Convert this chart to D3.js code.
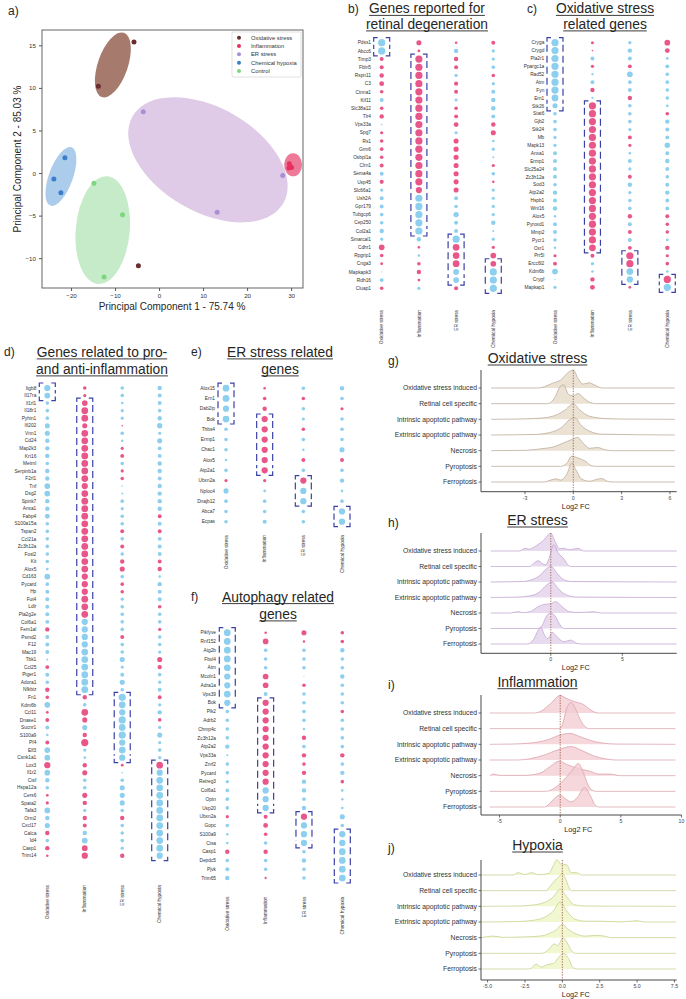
<!DOCTYPE html>
<html><head><meta charset="utf-8">
<script src="https://cdn.jsdelivr.net/npm/d3@7"></script>
<style>body{margin:0;background:#fff}svg text{font-family:'Liberation Sans',Arial,sans-serif}</style>
</head><body>
<script>
// ---------------- DATA ----------------
const pcaGroups = ["Oxidative stress","Inflammation","ER stress","Chemical hypoxia","Control"];
const pcaOxidative = [[-5.7,15.4],[-13.8,10.2],[-4.7,-10.9]];
const pcaInflammation = [[29.6,1.1],[29.5,0.6],[30.1,0.65],[29.8,0.75]];
const pcaER = [[-3.6,7.2],[13.2,-4.6],[28.1,-0.3]];
const pcaHypoxia = [[-21.4,1.8],[-23.9,-0.7],[-22.3,-2.3]];
const pcaControl = [[-14.8,-1.2],[-8.3,-4.9],[-12.5,-12.2]];
const pcaEllipseCenters = [[11.1,1.56],[-10.5,12.7],[30.45,0.97],[-22.3,-0.4],[-12.8,-6.7]];
const pcaEllipseGroups = ["ER stress","Oxidative stress","Inflammation","Chemical hypoxia","Control"];
const pcaXTicks = [-20,-10,0,10,20,30];
const pcaYTicks = [-10,-5,0,5,10,15];

const dotConditions = ["Oxidative stress","Inflammation","ER stress","Chemical hypoxia"];

const genesB = ["Pdss1","Abcc6","Timp3","Fbln5","Rspn11","C3","Ctnna1","Kif11","Slc38a12","Tlr4","Vps33a","Spg7","Rs1","Grm6","Osbpl1a","Clrn1","Sema4a","Usp45","Slc66a1","Ush2A","Gpr179","Tubgcp6","Cep250","Col2a1","Smarcal1","Cdhr1","Rpgrip1","Cnga3","Mapkapk3","Rdh16","Cluap1"];
const valuesB = [[-4,2,0.5,1.2],[-4,0.6,-1.5,-0.8],[1.2,4,1.5,-0.8],[1.3,4,1.2,-1],[1.5,4,-0.8,1],[1.8,4,1.3,-0.8],[1,4,1.2,-1.3],[-1.2,4,-0.8,-1.5],[1,4,1,-1.6],[1.5,4,1.2,-1.2],[-0.2,4,1.8,1.6],[0.8,4,-0.8,2],[1,4,2,-0.5],[1,4,2,-0.8],[1,4,2,-0.3],[1.2,4,2,0.8],[-1.2,4,2,-1],[1.3,4,2,0.5],[-0.8,3,2,-0.8],[-1.2,-4,-1.2,-0.8],[-1.2,-4,-1,-0.8],[-1,-4,-2.2,-0.8],[-1,-4,-1.2,-1.5],[-1.5,-4,-1.2,-0.3],[-0.8,-1.5,-4,-0.8],[2.5,0.5,3.5,0.8],[1,-0.5,3.5,2.5],[0.6,1,3.5,2.5],[-0.1,1.5,-2.5,-4],[-1.2,0.6,-2.5,-4],[1,-0.8,1.3,-4]];
const bracketsB = [[0,0,1],[1,2,23],[2,24,29],[3,27,30]];

const genesC = ["Cryga","Crygd","Pla2r1","Ppargc1a","Rad52","Atm","Fyn","Ern1","Stk26","Stat6","Gjb2","Stk24","Mb","Mapk13","Anxa1","Ermp1","Slc25a24","Zc3h12a","Sod3","Atp2a2","Hspb1","Wnt16","Alox5","Pyroxd1","Mmp2","Pycr1","Oxr1","Prr5l","Ercc6l2","Kdm6b","Crygf","Mapkap1"];
const valuesC = [[-4,0.7,-0.8,2.5],[-4,0.2,-1.5,1.8],[-4,-1.2,-1.2,-0.6],[-4,0.8,1.2,-1.2],[-4,-0.4,-2.5,-1],[-4,-1.2,-1,-1],[-4,1.5,-1.2,-1],[-3.5,-0.4,1.5,-1],[-2,4,-1,-0.6],[-1,4,-1,1],[-1,4,-1,-1.5],[-1,4,-0.8,-1.2],[-0.8,4,1.2,-1.2],[-0.8,4,0.8,-2.2],[-1.2,4,-0.5,-1.2],[-1.2,4,-1.2,-1.5],[-1.2,4,-0.8,-1.2],[-1.2,4,1.2,-1],[-1,4,-1.5,-1.2],[-1.5,4,-0.8,-1.5],[-1.2,4,-1,-1.2],[-1.5,4,-1,-1.2],[-0.5,4,1.5,1.2],[-1.2,4,-1.2,1],[-1.2,4,1.2,1],[-1,4,-1.2,-0.6],[-0.5,3.5,1.2,1.5],[0.8,1.2,4,0.8],[1.2,-0.8,4,1],[-2.5,-0.5,-3.5,-0.5],[-0.1,1.5,-3,4],[-0.8,1.8,0.6,-4]];
const bracketsC = [[0,0,8],[1,8,26],[2,27,30],[3,30,31]];

const genesD = ["Itgb8","Il17ra","Il1rl1","Il18r1","Pyhin1","Ifi202","Vnn1","Cd24","Map2k3","Krt16","Metrnl","Serpinb1a","F2rl1","Tnf","Dsg2","Spink7","Anxa1","Fabp4","S100a15a","Tspan2","Ccl21a","Zc3h12a","Fosl2","Kit","Alox5","Cd163","Pycard","Hp","Fut4","Ldlr","Pla2g2e","Col6a1","Fem1al","Psmd2","F12","Mac19","Tbk1","Ccl25","Ptger1","Adora1","Nfkbiz","Fn1","Kdm6b","Ccl11","Dnase1","Sucnr1","S100a9","Pf4","Elf3","Csnk1a1","Lox3","Il1r2","Ctsf","Hspa12a","Cers6","Spata2","Tafa3","Orm2","Cxcl17","Calca","Id4","Casp1","Trim14"];
const valuesD = [[-3,1,-1,-1.5],[-2.5,0.8,-1,-1.2],[-1,2.5,-0.5,-1.2],[-1,3.5,-0.8,-1],[-1,3.5,-0.8,-1.5],[-2,2,0.2,-2.2],[-2,3.5,-1,-0.8],[-1.5,3.5,-0.5,-2],[-1.5,3.5,0.8,-1.2],[-1.5,3.5,1.2,-1.2],[-1,3.5,-1,-1.5],[-1.5,3.5,0.8,-1.5],[-1.5,3.5,1,-1.2],[-2.5,3,-0.2,-1.5],[-2.5,3.5,-0.3,-1.5],[-1.5,3.5,-1,-1.5],[-1.5,3.5,-0.8,-1.5],[-1.8,3.5,-1,1.2],[-1,3.5,-1,-1.2],[-1,3.5,1.2,1.2],[-1,3.5,-1,-1.2],[-1,3.5,1.2,-1.2],[-1,3.5,-1,-1.2],[-1,3.5,1.5,1.2],[-0.6,3.5,2,1.5],[-2.5,3,-1,-0.5],[-1,3,1,-1.5],[-1.2,3,1,-1.2],[-1.2,3.5,-0.8,-1.2],[-1.2,3.5,-1,1],[-1.2,3.5,-1,-1],[-1.2,-3,-1,-1],[1.5,-3,-1,0.8],[-1.2,-3,1.2,-1],[-1.2,-3,-1,-1],[-1.2,-3.5,-1,-0.8],[-0.3,-3.5,-2,2],[1.2,-3.5,-0.8,1.5],[-1.2,-3.5,-1.2,-1],[-1,-3.5,-2,-0.8],[1.5,-3.5,-1,-1.2],[1,1.5,-4,1.2],[-2.5,-1,-3.5,-0.8],[0.6,3.5,-3,-1.5],[1.2,2,-4,1],[-1.2,-2,-3.5,-0.8],[-0.5,1.5,-4,-2],[1.2,4,-3,-0.8],[-2.5,-0.8,-3.5,-1],[-2.5,-0.5,-3,-0.8],[3,1.5,0.6,3.5],[-2.5,2,-0.2,-3],[-1.5,-1,-1,-3.5],[-1,-1,-2,-3.5],[0.6,2,-2,-3.5],[0.8,1.5,-2,-3.5],[-2.5,-0.8,-1,-3.5],[-1.5,1.5,1.5,-3.5],[-2,1.2,-1,-3.5],[1.5,-1.5,-1,-3.5],[-1,-2.5,-1,-3.5],[1.5,2.5,-0.8,-3.5],[0.5,3,1.5,-3]];
const bracketsD = [[0,0,1],[1,2,40],[2,41,49],[3,50,62]];

const genesE = ["Alox15","Ern1","Dab2ip","Bok","Thbs4","Ermp1","Chac1","Alox5","Atp2a1","Ubxn2a","Nploc4","Dnajb12","Abca7","Ecpas"];
const valuesE = [[-3.5,0.5,-1,-1.5],[-3.5,1,1,-1],[-3,1.5,-1,0.8],[-3.5,3,-0.8,-1],[-1,3,1,-1],[-1,3,-1,-1],[-1,3,-0.5,-2],[-0.5,3,1.2,1.2],[-1,3,-1,-1],[0.8,0.8,3,-1.5],[-2,-0.6,-3,-0.5],[-1,-1,-3,-1],[-1,-1,-1,-3],[-1,-1.3,-1,-3]];
const bracketsE = [[0,0,3],[1,3,8],[2,9,11],[3,12,13]];

const genesF = ["Pikfyve","Rnf152","Atg2b","Fbxl4","Atm","Mcoln1","Adra1a","Vps39","Bok","Plk2","Adrb2","Chmp4c","Zc3h12a","Atp2a2","Vps33a","Znrf2","Pycard","Retreg3","Col6a1","Optn","Usp20","Ubxn2a","Gopc","S100a9","Ctsa","Casp1","Depdc5","Pjvk","Trim65"];
const valuesF = [[-3.5,0.5,2,1],[-3.5,2.5,0.5,1],[-3.5,-1,-1,-1.5],[-3.5,-1,-1,-1],[-3.5,-1,-1,-1],[-3,2.5,-0.1,-1.5],[-3,2.5,1,-1],[-3.5,-1.2,-1,-1],[-3,3,-1,-1],[-1,3,-1,1],[-1,3,-1,-1],[-1,3,-0.5,-1],[-1,3,1.5,-1],[-1.5,3,-1,-1],[-0.3,3,1.5,1.5],[-1,3,1,-1],[-1,3,1.5,-1.5],[-0.8,3,-1.5,1],[-1,-3,-1.5,-0.5],[-1,-3,-1,-0.5],[-1,-3,-1.5,-0.5],[0.8,1.2,3,-2],[-1,1.8,-3,-1],[-0.5,1,-3,-3],[-0.5,-1,-3,-3],[1.5,1.5,-1,-3.5],[-1,-1,-1.5,-3.5],[-1.2,-1,-1,-3.5],[-1.5,0.4,-1,-3.5]];
const bracketsF = [[0,0,8],[1,8,20],[2,21,24],[3,23,28]];

const ridgeCats = ["Oxidative stress induced","Retinal cell specific","Intrinsic apoptotic pathway","Extrinsic apoptotic pathway","Necrosis","Pyroptosis","Ferroptosis"];
const ridgeOxidative = [
 [[-5.1,0],[-2.2,0],[-1.8,0.08],[-1.3,0.3],[-0.8,0.5],[-0.3,1.0],[0,1.15],[0.3,0.6],[0.6,0.25],[1.0,0.33],[1.3,0.2],[1.8,0],[6.3,0]],
 [[-5.1,0],[-1.6,0],[-1.2,0.3],[-0.8,1.1],[-0.6,1.2],[-0.3,0.6],[0,0.5],[0.3,0.65],[0.6,0.4],[1.0,0.1],[1.4,0],[6.3,0]],
 [[-5.1,0],[-3.5,0.02],[-2,0.08],[-1,0.3],[-0.5,0.6],[0,1.0],[0.4,0.6],[1,0.2],[2,0.05],[3,0.02],[6.3,0]],
 [[-5.1,0],[-2.5,0.03],[-1.5,0.15],[-0.7,0.5],[-0.2,1.0],[0.1,1.1],[0.5,0.6],[1,0.25],[1.8,0.05],[6.3,0]],
 [[-5.1,0],[-3,0.02],[-2,0.12],[-1.2,0.25],[-0.6,0.5],[0,0.75],[0.25,0.85],[0.6,0.5],[1.0,0.15],[1.5,0.2],[2.0,0.05],[2.5,0],[6.3,0]],
 [[-5.1,0],[-0.8,0],[-0.4,0.2],[-0.1,0.65],[0.1,0.6],[0.5,0.45],[0.8,0.3],[1.1,0.05],[1.4,0],[6.3,0]],
 [[-5.1,0],[-1.8,0],[-1.4,0.12],[-1.1,0.2],[-0.8,0.12],[-0.4,0.5],[-0.1,1.2],[0.2,0.7],[0.5,0.2],[1.0,0.05],[1.5,0.18],[1.8,0.22],[2.1,0.05],[2.4,0],[6.3,0]]
];
const ridgeER = [
 [[-4.2,0],[-2.2,0],[-1.8,0.17],[-1.5,0.12],[-1,0.35],[-0.5,0.7],[0,1.14],[0.3,0.6],[0.6,0.15],[0.9,0.17],[1.3,0.08],[1.9,0.17],[2.3,0],[8.8,0]],
 [[-4.2,0],[-1.5,0],[-1.2,0.2],[-0.9,0.37],[-0.6,0.2],[-0.35,0.1],[-0.1,0.6],[0.2,1.4],[0.5,0.9],[0.9,0.5],[1.2,0.1],[1.4,0],[8.8,0]],
 [[-4.2,0],[-2,0.03],[-1.5,0.1],[-0.8,0.4],[-0.3,0.85],[0,1.03],[0.4,0.6],[0.9,0.15],[1.5,0.03],[8.8,0]],
 [[-4.2,0],[-2.5,0.02],[-1.5,0.1],[-0.8,0.35],[-0.3,0.8],[0.1,1.0],[0.5,0.6],[1.0,0.2],[1.8,0.03],[8.8,0]],
 [[-4.2,0],[-2.8,0],[-2.3,0.08],[-1.9,0.02],[-1.4,0.1],[-0.9,0.4],[-0.5,0.55],[0,0.6],[0.35,0.73],[0.8,0.4],[1.3,0.08],[2,0.03],[3,0.08],[3.5,0],[8.8,0]],
 [[-4.2,0],[-0.9,0],[-0.6,0.2],[-0.3,0.8],[0,1.0],[0.3,0.8],[0.6,0.3],[0.9,0],[8.8,0]],
 [[-4.2,0],[-1.6,0],[-1.2,0.3],[-0.9,0.85],[-0.7,1.08],[-0.45,0.6],[-0.2,0.35],[0.1,0.75],[0.4,0.5],[0.9,0.15],[1.4,0.25],[1.8,0.05],[2.2,0],[8.8,0]]
];
const ridgeInflammation = [
 [[-5.8,0],[-2.2,0],[-1.5,0.15],[-0.8,0.6],[0,1.11],[0.6,0.9],[1.3,0.7],[1.9,0.55],[2.5,0.2],[3.1,0],[9.5,0]],
 [[-5.8,0],[-0.1,0],[0.2,0.3],[0.5,1.2],[0.9,1.67],[1.3,1.2],[1.7,0.5],[2.1,0.1],[2.4,0],[9.5,0]],
 [[-5.8,0],[-4,0.02],[-2.5,0.08],[-1,0.3],[0,0.6],[0.8,0.7],[1.6,0.5],[2.5,0.25],[3.5,0.08],[4.6,0.02],[9.5,0]],
 [[-5.8,0],[-3.5,0],[-2.5,0.08],[-1.2,0.35],[0,0.7],[0.9,0.86],[1.8,0.6],[2.8,0.25],[3.8,0.06],[4.6,0],[9.5,0]],
 [[-5.8,0],[-5.5,0.1],[-5,0.02],[-3,0.02],[-1.7,0.15],[-0.8,0.6],[-0.1,0.92],[0.6,0.7],[1.5,0.45],[2.4,0.3],[3.2,0.1],[4.1,0.1],[5,0],[9.5,0]],
 [[-5.8,0],[-1.2,0],[-0.6,0.15],[0,0.5],[0.5,0.9],[1.0,1.35],[1.5,1.78],[1.9,1.2],[2.3,0.4],[2.7,0.05],[3,0],[9.5,0]],
 [[-5.8,0],[-1.3,0],[-0.9,0.2],[-0.4,0.6],[0,0.77],[0.4,0.55],[0.9,0.33],[1.4,0.6],[2.0,1.24],[2.5,0.7],[2.9,0.1],[3.2,0],[9.5,0]]
];
const ridgeHypoxia = [
 [[-5.4,0],[-3.3,0],[-2.95,0.15],[-2.5,0.03],[-2.05,0.15],[-1.6,0.02],[-0.9,0.1],[-0.6,0.6],[-0.37,0.97],[-0.1,0.7],[0.3,0.65],[0.6,0.15],[0.95,0.15],[1.3,0],[7.6,0]],
 [[-5.4,0],[-1.1,0],[-0.8,0.3],[-0.5,0.65],[-0.2,0.9],[0,1.14],[0.2,0.8],[0.45,0.2],[0.6,0],[7.6,0]],
 [[-5.4,0],[-3,0.02],[-2,0.08],[-1.2,0.25],[-0.6,0.6],[-0.15,1.1],[0.3,0.6],[0.8,0.1],[1.5,0.02],[7.6,0]],
 [[-5.4,0],[-3,0.03],[-2,0.1],[-1.2,0.3],[-0.6,0.7],[-0.15,1.27],[0.3,0.7],[0.8,0.2],[1.5,0.05],[2.5,0.05],[4,0.01],[5,0.08],[5.5,0],[7.6,0]],
 [[-5.4,0],[-4.6,0.1],[-4,0.02],[-2.5,0.05],[-1.5,0.1],[-0.8,0.3],[-0.4,0.5],[0,0.86],[0.3,0.6],[0.9,0.25],[1.5,0.1],[2.3,0.15],[2.8,0.1],[3.3,0],[7.6,0]],
 [[-5.4,0],[-1.4,0],[-0.9,0.25],[-0.55,0.6],[-0.3,0.5],[0.05,1.0],[0.3,0.7],[0.6,0.2],[0.9,0],[7.6,0]],
 [[-5.4,0],[-2.2,0],[-1.75,0.3],[-1.4,0.12],[-1.0,0.28],[-0.6,0.35],[-0.2,0.8],[0.05,1.0],[0.45,0.6],[0.7,0.1],[1,0],[7.6,0]]
];
const ticksG = [-3,0,3,6], ticksH = [0,5], ticksI = [-5,0,5,10], ticksJ = [-5,-2.5,0,2.5,5,7.5];

// ---------------- DRAWING ----------------
const TXT = "#262626";
const PINK = "#e9578a", BLUE = "#8dcfee", BRACKET = "#3c40a6";
const svg = d3.select("body").append("svg").attr("width",686).attr("height",999);

function label(t,x,y,size){ svg.append("text").attr("x",x).attr("y",y).attr("dy","0.35em").attr("font-size",size||12).attr("fill",TXT).text(t); }
function title(lines,cx,ys,size){
  lines.forEach((l,i)=>{
    const t = svg.append("text").attr("x",cx).attr("y",ys[i]).attr("dy","0.35em").attr("text-anchor","middle").attr("font-size",size).attr("fill",TXT).text(l);
    const w = t.node().getComputedTextLength();
    svg.append("line").attr("x1",cx-w/2).attr("x2",cx+w/2).attr("y1",ys[i]+size*0.5).attr("y2",ys[i]+size*0.5).attr("stroke",TXT).attr("stroke-width",0.9);
  });
}

// ---- Panel a ----
(function(){
  const x = d3.scaleLinear().domain([-26.6,32.7]).range([42,303]);
  const y = d3.scaleLinear().domain([-13.5,16.8]).range([288,30]);
  const pointColor = {"Oxidative stress":"#6b2c30","Inflammation":"#e8305f","ER stress":"#a98fd6","Chemical hypoxia":"#3b7dc9","Control":"#7dd67f"};
  const ellFill = {"Oxidative stress":"#a67b6d","Inflammation":"#ed7a98","ER stress":"#dfcbe7","Chemical hypoxia":"#abcdeb","Control":"#c5ebc9"};
  const ellShape = {"Oxidative stress":[15,34,19],"Inflammation":[9,11.5,0],"ER stress":[87,52,30],"Chemical hypoxia":[12,31,20],"Control":[27,54,5]};
  const g = svg.append("g");
  pcaEllipseGroups.forEach((grp,i)=>{
    const c = pcaEllipseCenters[i], s = ellShape[grp];
    g.append("ellipse").attr("cx",0).attr("cy",0).attr("rx",s[0]).attr("ry",s[1])
      .attr("transform",`translate(${x(c[0])},${y(c[1])}) rotate(${s[2]})`).attr("fill",ellFill[grp]);
  });
  const sets = [pcaOxidative,pcaInflammation,pcaER,pcaHypoxia,pcaControl];
  sets.forEach((pts,i)=>{
    g.selectAll(null).data(pts).join("circle").attr("cx",d=>x(d[0])).attr("cy",d=>y(d[1])).attr("r",2.5).attr("fill",pointColor[pcaGroups[i]]);
  });
  g.append("rect").attr("x",42).attr("y",30).attr("width",261).attr("height",258).attr("fill","none").attr("stroke","#555").attr("stroke-width",0.9);
  const ax = g.append("g").attr("transform","translate(0,288)").call(d3.axisBottom(x).tickValues(pcaXTicks).tickSize(3));
  const ay = g.append("g").attr("transform","translate(42,0)").call(d3.axisLeft(y).tickValues(pcaYTicks).tickSize(3));
  [ax,ay].forEach(a=>{a.select(".domain").remove(); a.attr("font-family",null).attr("font-size",6.2); a.selectAll("text").attr("fill","#333"); a.selectAll("line").attr("stroke","#555");});
  svg.append("text").attr("x",172).attr("y",306).attr("dy","0.35em").attr("text-anchor","middle").attr("font-size",10).attr("fill",TXT).text("Principal Component 1 - 75.74 %");
  svg.append("text").attr("transform","translate(17,159) rotate(-90)").attr("dy","0.35em").attr("text-anchor","middle").attr("font-size",10).attr("fill",TXT).text("Principal Component 2 - 85.03 %");
  // legend
  const lg = svg.append("g");
  lg.append("rect").attr("x",232).attr("y",32).attr("width",69).attr("height",45).attr("fill","#fff").attr("stroke","#ccc").attr("stroke-width",0.6).attr("rx",1);
  const ly = d3.scalePoint().domain(pcaGroups).range([37.7,71]);
  lg.selectAll("circle").data(pcaGroups).join("circle").attr("cx",239).attr("cy",d=>ly(d)).attr("r",2).attr("fill",d=>pointColor[d]);
  lg.selectAll("text").data(pcaGroups).join("text").attr("x",251).attr("y",d=>ly(d)).attr("dy","0.35em").attr("font-size",5.8).attr("fill","#333").text(d=>d);
  label("a)",8,11,12);
})();

// ---- Dot panels ----
const rScale = d3.scaleSqrt().domain([0,4]).range([0,3.6]);
function dotPanel(o){
  const x = d3.scalePoint().domain(dotConditions).range(o.cols);
  const y = d3.scalePoint().domain(d3.range(o.genes.length)).range(o.rows);
  const g = svg.append("g");
  g.selectAll(".rl").data(o.genes).join("text").attr("x",o.labelX).attr("y",(d,i)=>y(i)).attr("dy","0.35em")
    .attr("text-anchor","end").attr("font-size",4.8).attr("fill","#333").text(d=>d);
  const cells = [];
  o.values.forEach((row,i)=>row.forEach((v,j)=>cells.push({i,c:dotConditions[j],v})));
  g.selectAll("circle").data(cells).join("circle").attr("cx",d=>x(d.c)).attr("cy",d=>y(d.i))
    .attr("r",d=>rScale(Math.abs(d.v))).attr("fill",d=>d.v>=0?PINK:BLUE);
  o.brackets.forEach(b=>{
    const cx = x(dotConditions[b[0]]), x0 = cx-8, x1 = cx+8, y0 = y(b[1])-5, y1 = y(b[2])+5;
    const leg = 4;
    const p = d3.path();
    p.moveTo(x0+leg,y0); p.lineTo(x0,y0); p.lineTo(x0,y0+leg);
    p.moveTo(x1-leg,y0); p.lineTo(x1,y0); p.lineTo(x1,y0+leg);
    p.moveTo(x0+leg,y1); p.lineTo(x0,y1); p.lineTo(x0,y1-leg);
    p.moveTo(x1-leg,y1); p.lineTo(x1,y1); p.lineTo(x1,y1-leg);
    g.append("path").attr("d",p.toString()).attr("fill","none").attr("stroke",BRACKET).attr("stroke-width",1.2);
    const inner = (y1-leg-3)-(y0+leg+3);
    if (inner > 3) {
      [x0,x1].forEach(xx=>g.append("line").attr("x1",xx).attr("x2",xx).attr("y1",y0+leg+3).attr("y2",y1-leg-3)
        .attr("stroke",BRACKET).attr("stroke-width",1.2).attr("stroke-dasharray","7,4"));
    }
  });
  g.selectAll(".cl").data(dotConditions).join("text").attr("transform",d=>`translate(${x(d)},${o.colTop}) rotate(-90)`)
    .attr("dy","0.35em").attr("text-anchor","end").attr("font-size",4.8).attr("fill","#333").text(d=>d);
  title(o.title,o.titleX,o.titleY,13.8);
  label(o.tag,o.tagX,o.titleY[0],12);
}
dotPanel({genes:genesB,values:valuesB,brackets:bracketsB,cols:[381.7,493.3],rows:[42.7,288.3],labelX:371,colTop:310,
  title:["Genes reported for","retinal degeneration"],titleX:427,titleY:[8.5,24],tag:"b)",tagX:348});
dotPanel({genes:genesC,values:valuesC,brackets:bracketsC,cols:[555,667.3],rows:[42.7,287.3],labelX:544.3,colTop:310,
  title:["Oxidative stress","related genes"],titleX:605,titleY:[8.5,24],tag:"c)",tagX:527});
dotPanel({genes:genesD,values:valuesD,brackets:bracketsD,cols:[47.3,159.7],rows:[388,855.7],labelX:36.3,colTop:885,
  title:["Genes related to pro-","and anti-inflammation"],titleX:102,titleY:[352,369],tag:"d)",tagX:4});
dotPanel({genes:genesE,values:valuesE,brackets:bracketsE,cols:[226,342],rows:[388.2,521.7],labelX:215,colTop:535,
  title:["ER stress related","genes"],titleX:280,titleY:[352,369],tag:"e)",tagX:191});
dotPanel({genes:genesF,values:valuesF,brackets:bracketsF,cols:[227.3,342.3],rows:[632.7,878],labelX:216,colTop:896.7,
  title:["Autophagy related","genes"],titleX:278,titleY:[596.7,614],tag:"f)",tagX:191});

// ---- Ridge panels ----
function ridgePanel(o,knots,ticks){
  const x = d3.scaleLinear().domain(o.domain).range([481,o.right]);
  const y = d3.scalePoint().domain(ridgeCats).range(o.rows);
  const step = (o.rows[1]-o.rows[0])/6;
  const g = svg.append("g");
  knots.forEach((k,i)=>{
    const base = y(ridgeCats[i]);
    const area = d3.area().x(d=>x(d[0])).y0(base).y1(d=>base-d[1]*step).curve(d3.curveMonotoneX);
    const line = d3.line().x(d=>x(d[0])).y(d=>base-d[1]*step).curve(d3.curveMonotoneX);
    g.append("path").attr("d",area(k)).attr("fill",o.fill).attr("fill-opacity",0.8);
    g.append("path").attr("d",line(k)).attr("fill","none").attr("stroke",o.stroke).attr("stroke-width",0.7);
  });
  g.append("line").attr("x1",x(0)).attr("x2",x(0)).attr("y1",o.top).attr("y2",o.axisY).attr("stroke","#9a4b32")
    .attr("stroke-width",0.8).attr("stroke-dasharray","1.3,1.3");
  g.append("line").attr("x1",481).attr("x2",481).attr("y1",o.top).attr("y2",o.axisY).attr("stroke","#333").attr("stroke-width",0.9);
  g.append("line").attr("x1",481).attr("x2",o.right).attr("y1",o.axisY).attr("y2",o.axisY).attr("stroke","#333").attr("stroke-width",0.9);
  g.selectAll(".yt").data(ridgeCats).join("line").attr("x1",478.5).attr("x2",481).attr("y1",d=>y(d)).attr("y2",d=>y(d)).attr("stroke","#333").attr("stroke-width",0.7);
  g.selectAll(".yl").data(ridgeCats).join("text").attr("x",477).attr("y",d=>y(d)).attr("dy","0.35em").attr("text-anchor","end")
    .attr("font-size",6.8).attr("fill","#333").text(d=>d);
  g.selectAll(".xt").data(ticks).join("line").attr("x1",d=>x(d)).attr("x2",d=>x(d)).attr("y1",o.axisY).attr("y2",o.axisY+2.5).attr("stroke","#333").attr("stroke-width",0.7);
  g.selectAll(".xl").data(ticks).join("text").attr("x",d=>x(d)).attr("y",o.axisY+6.3).attr("dy","0.35em").attr("text-anchor","middle")
    .attr("font-size",5.2).attr("fill","#444").text(d=>d3.format(o.fmt)(d).replace("\u2212","-"));
  g.append("text").attr("x",(481+o.right)/2 - 3).attr("y",o.axisY+14.5).attr("dy","0.35em").attr("text-anchor","middle").attr("font-size",7.3).attr("fill",TXT).text("Log2 FC");
  title([o.title],537.5,[o.titleY],14);
  label(o.tag,388,o.titleY+3,12);
}
ridgePanel({title:"Oxidative stress",tag:"g)",titleY:358,rows:[388,482],axisY:491.7,top:370,domain:[-5.73,6.42],right:676.7,fmt:"d",fill:"#e7dbc9",stroke:"#b5a593"},ridgeOxidative,ticksG);
ridgePanel({title:"ER stress",tag:"h)",titleY:520,rows:[551,644],axisY:653.3,top:533,domain:[-4.88,8.8],right:676.7,fmt:"d",fill:"#e4d2eb",stroke:"#bb9fcc"},ridgeER,ticksH);
ridgePanel({title:"Inflammation",tag:"i)",titleY:681.7,rows:[713,807],axisY:815,top:695,domain:[-6.53,10],right:681.5,fmt:"d",fill:"#f2cdd3",stroke:"#d79ca6"},ridgeInflammation,ticksI);
ridgePanel({title:"Hypoxia",tag:"j)",titleY:845,rows:[875,969],axisY:980,top:860,domain:[-5.44,7.65],right:676.7,fmt:".1f",fill:"#edf5c5",stroke:"#c1cd88"},ridgeHypoxia,ticksJ);
</script>
</body></html>
